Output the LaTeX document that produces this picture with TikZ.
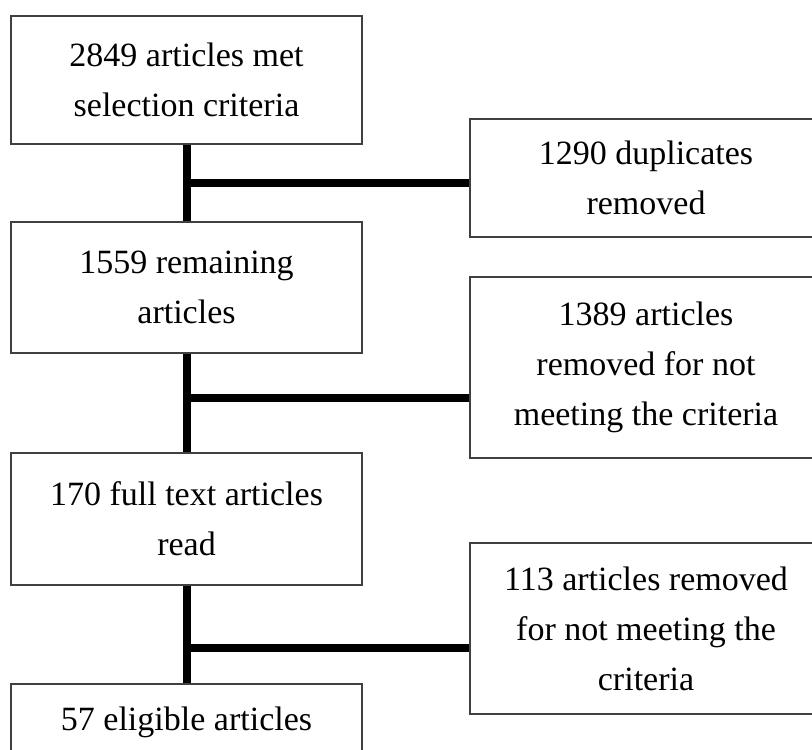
\documentclass[tikz,border=0pt]{standalone}
\usepackage{fontspec}
\setmainfont{Liberation Serif}
\tikzset{
  stagebox/.style={draw=black!75, line width=0.6pt, minimum width=175.5pt, align=center, font=\fontsize{17}{25}\selectfont},
  link/.style={line width=4pt}
}
\begin{document}
\begin{tikzpicture}[x=0.5pt,y=-0.5pt]
\clip (0,0) rectangle (812,749);
\fill[white] (0,0) rectangle (812,749);
\node[stagebox, minimum height=64pt] (S1) at (186.5,80) {2849 articles met\\selection criteria};
\node[stagebox, minimum height=65.5pt] (S2) at (186.5,287.5) {1559 remaining\\articles};
\node[stagebox, minimum height=66pt] (S3) at (186.5,519) {170 full text articles\\read};
\node[stagebox, minimum height=38pt] (S4) at (186.5,722) {57 eligible articles};
\node[stagebox, minimum width=176pt, minimum height=59pt] (R1) at (646,178) {1290 duplicates\\removed};
\node[stagebox, minimum width=176pt, minimum height=90.5pt] (R2) at (646,367.5) {1389 articles\\removed for not\\meeting the criteria};
\node[stagebox, minimum width=176pt, minimum height=85.5pt] (R3) at (646,628.5) {113 articles removed\\for not meeting the\\criteria};
\coordinate (J1) at (186.5,183);
\coordinate (J2) at (186.5,398);
\coordinate (J3) at (186.5,648);
\draw [link] (S1) -- (S2);
\draw [link] (S2) -- (S3);
\draw [link] (S3) -- (S4);
\draw [link] (J1) -- (J1 -| R1.west);
\draw [link] (J2) -- (J2 -| R2.west);
\draw [link] (J3) -- (J3 -| R3.west);
\end{tikzpicture}
\end{document}
